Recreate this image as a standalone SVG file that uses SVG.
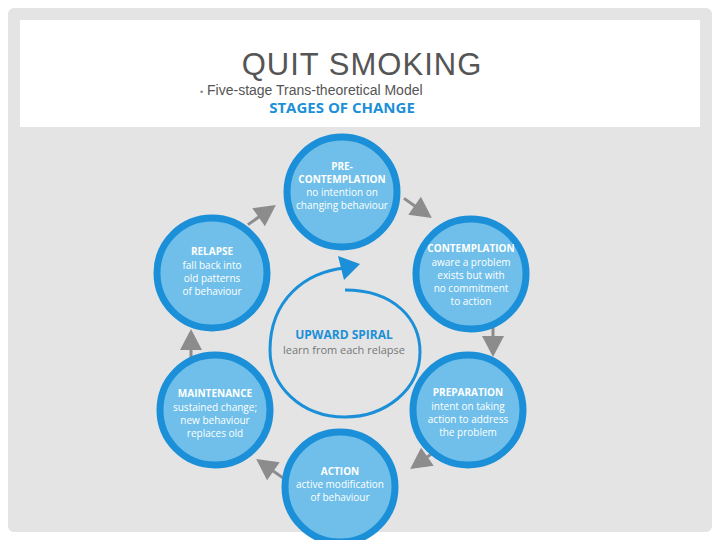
<svg xmlns="http://www.w3.org/2000/svg" width="720" height="540" viewBox="0 0 720 540">
<style>
.st{fill:#6fbfea;stroke:#1b8fd8;stroke-width:7}
.h{font-family:"Open Sans","Liberation Sans",sans-serif;font-weight:bold;font-size:10px;fill:#fff;text-anchor:middle}
.b{font-family:"Open Sans","Liberation Sans",sans-serif;font-size:10px;fill:#fff;text-anchor:middle}
.ln{stroke:#8c8c8c;stroke-width:3;fill:none}
.ar{fill:#8c8c8c}
</style>
<defs><g id="tri"><line x1="-22" y1="0" x2="0" y2="0" class="ln"/><polygon class="ar" points="-9,-11 12,0 -9,11"/></g></defs>
<rect x="0" y="0" width="720" height="540" fill="#fff"/>
<rect x="8" y="8" width="704" height="524" rx="6" fill="#e4e4e4"/>
<rect x="20" y="20" width="680" height="107" fill="#fff"/>
<text x="362" y="75" font-family="Liberation Sans,sans-serif" font-size="31" fill="#555" text-anchor="middle" letter-spacing="1">QUIT SMOKING</text>
<text x="200" y="95" font-family="Liberation Sans,sans-serif" font-size="14" fill="#555"><tspan font-size="9" fill="#888">•</tspan>  Five-stage Trans-theoretical Model</text>
<text x="342" y="113" font-family="Open Sans,Liberation Sans,sans-serif" font-weight="bold" font-size="15" fill="#1b8fd8" text-anchor="middle">STAGES OF CHANGE</text>
<g id="connectors">
<use href="#tri" transform="translate(422,211) rotate(35)"/>
<use href="#tri" transform="translate(493,345) rotate(90)"/>
<use href="#tri" transform="translate(420,462) rotate(145)"/>
<use href="#tri" transform="translate(266,466) rotate(215)"/>
<use href="#tri" transform="translate(191,341) rotate(270)"/>
<use href="#tri" transform="translate(266,212) rotate(-35)"/>
<path d="M345,290 C395,290 420,320 420,352 C420,390 385,417 345,417 C300,417 270,385 270,350 C270,300 305,272 345,268" fill="none" stroke="#1b8fd8" stroke-width="3"/>
<polygon points="360,264 338,256 344,280" fill="#1b8fd8"/>
</g>
<g id="pre"><circle class="st" cx="342" cy="192" r="55"/><text class="h" x="342" y="170">PRE-</text><text class="h" x="342" y="183">CONTEMPLATION</text><text class="b" x="342" y="196">no intention on</text><text class="b" x="342" y="209">changing behaviour</text></g>
<g id="contemplation"><circle class="st" cx="471" cy="274" r="55"/><text class="h" x="471" y="252">CONTEMPLATION</text><text class="b" x="471" y="266">aware a problem</text><text class="b" x="471" y="279">exists but with</text><text class="b" x="471" y="292">no commitment</text><text class="b" x="471" y="305">to action</text></g>
<g id="preparation"><circle class="st" cx="468" cy="410" r="55"/><text class="h" x="468" y="396">PREPARATION</text><text class="b" x="468" y="410">intent on taking</text><text class="b" x="468" y="423">action to address</text><text class="b" x="468" y="436">the problem</text></g>
<g id="action"><circle class="st" cx="340" cy="487" r="55"/><text class="h" x="340" y="475">ACTION</text><text class="b" x="340" y="488">active modification</text><text class="b" x="340" y="501">of behaviour</text></g>
<g id="maintenance"><circle class="st" cx="215" cy="410" r="55"/><text class="h" x="215" y="397">MAINTENANCE</text><text class="b" x="215" y="411">sustained change;</text><text class="b" x="215" y="424">new behaviour</text><text class="b" x="215" y="437">replaces old</text></g>
<g id="relapse"><circle class="st" cx="212" cy="273" r="55"/><text class="h" x="212" y="255">RELAPSE</text><text class="b" x="212" y="269">fall back into</text><text class="b" x="212" y="282">old patterns</text><text class="b" x="212" y="295">of behaviour</text></g>
<g id="spiral"><text x="344" y="339" font-family="Open Sans,Liberation Sans,sans-serif" font-weight="bold" font-size="12" fill="#1b8fd8" text-anchor="middle">UPWARD SPIRAL</text><text x="344" y="354" font-family="Open Sans,Liberation Sans,sans-serif" font-size="11" fill="#777" text-anchor="middle">learn from each relapse</text></g>
</svg>
